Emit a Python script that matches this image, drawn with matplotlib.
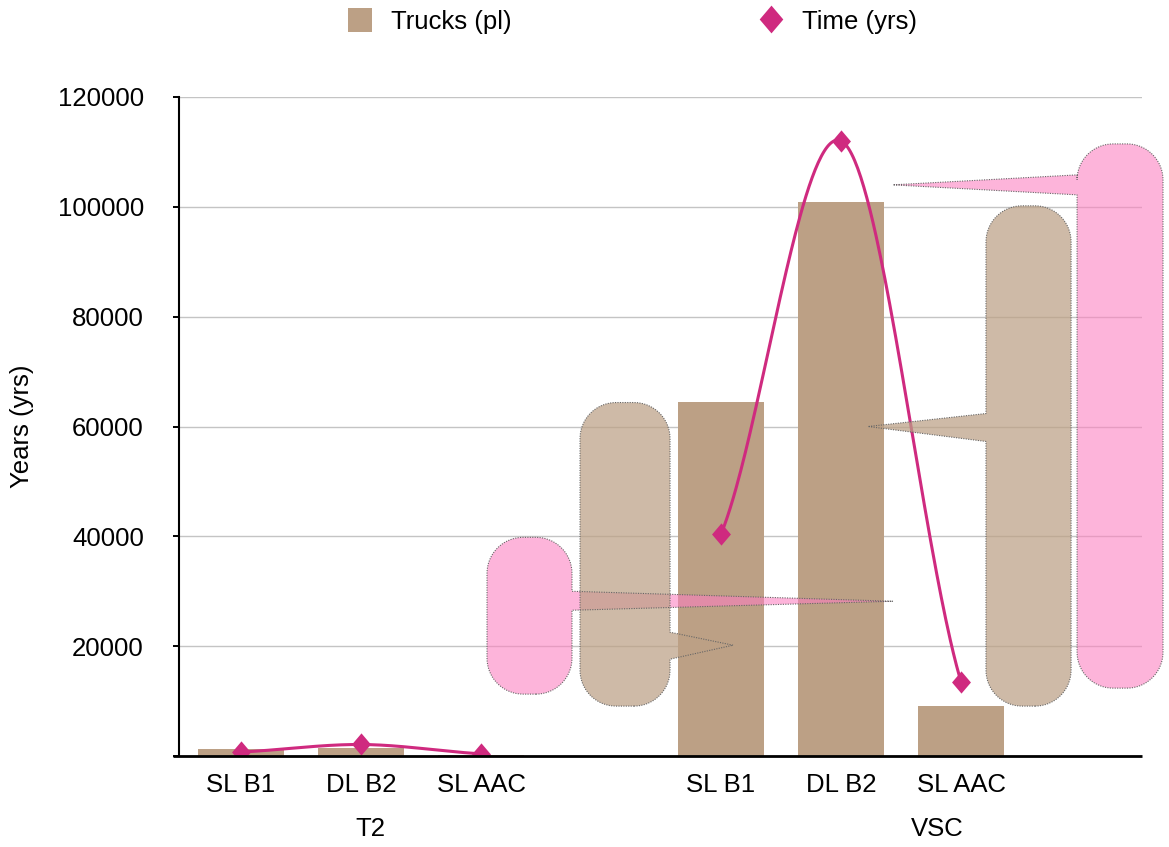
import numpy as np
import matplotlib
matplotlib.use("Agg")
import matplotlib.pyplot as plt
from matplotlib.patches import Patch, PathPatch
from matplotlib.lines import Line2D
from matplotlib.path import Path
from matplotlib.transforms import blended_transform_factory

plt.rcParams['font.family'] = ['Liberation Sans', 'DejaVu Sans']

# ---- data -------------------------------------------------------------
groups = ["T2", "VSC"]
categories = ["SL B1", "DL B2", "SL AAC"]
trucks_t2 = [1300, 1500, 150]
trucks_vsc = [64400, 100800, 9100]
time_t2 = [730, 2100, 400]
time_vsc = [40400, 112000, 13500]
y_ticks = [0, 20000, 40000, 60000, 80000, 100000, 120000]
y_tick_labels = ["", "20000", "40000", "60000", "80000", "100000", "120000"]

# ---- styling ----------------------------------------------------------
TAN = "#bca085"
MAGENTA = "#cf2a7f"
PINK = "#fd7fc0"
FS = 18.5

fig = plt.figure(figsize=(11.69, 8.47), dpi=100)
ax = fig.add_axes([0.1531, 0.1074, 0.8238, 0.7781])
ax.set_xlim(-0.517, 7.508)
ax.set_ylim(0, 120000)

# slot positions: three categories per group, with an empty slot between groups
pos_t2 = np.array([0, 1, 2])
pos_vsc = np.array([4, 5, 6])

ax.set_yticks(y_ticks)
ax.set_yticklabels(y_tick_labels, fontsize=FS)
ax.yaxis.grid(True, color="#c4c4c4", linewidth=1.0, zorder=0)
ax.set_axisbelow(True)
ax.tick_params(axis="y", length=4.3, width=1.4, pad=21, color="black")
ax.tick_params(axis="x", length=0, pad=12)
ax.set_xticks(np.concatenate([pos_t2, pos_vsc]))
ax.set_xticklabels(categories + categories, fontsize=FS)
ax.set_ylabel("Years (yrs)", fontsize=FS)
ax.yaxis.set_label_coords(-0.151, 0.5)

for s in ("top", "right"):
    ax.spines[s].set_visible(False)
ax.spines["left"].set_linewidth(1.5)
ax.spines["bottom"].set_visible(False)
# baseline that runs slightly past the y axis on the left
ax.plot([-0.0065, 1.0], [0, 0], transform=ax.transAxes, color="black",
        linewidth=2.0, clip_on=False, zorder=6, solid_capstyle="butt")

# ---- bars -------------------------------------------------------------
bar_w = 0.72
ax.bar(pos_t2, trucks_t2, width=bar_w, color=TAN, zorder=2)
ax.bar(pos_vsc, trucks_vsc, width=bar_w, color=TAN, zorder=2)


# ---- smoothed line ----------------------------------------------------
def smooth(xs, ys, tension=0.75, n=80):
    xs = np.asarray(xs, float)
    ys = np.asarray(ys, float)
    m = np.empty_like(ys)
    m[1:-1] = (ys[2:] - ys[:-2]) / (xs[2:] - xs[:-2])
    m[0] = (ys[1] - ys[0]) / (xs[1] - xs[0])
    m[-1] = (ys[-1] - ys[-2]) / (xs[-1] - xs[-2])
    m *= tension
    px, py = [], []
    for i in range(len(xs) - 1):
        h = xs[i + 1] - xs[i]
        t = np.linspace(0, 1, n)
        h00 = 2 * t**3 - 3 * t**2 + 1
        h10 = t**3 - 2 * t**2 + t
        h01 = -2 * t**3 + 3 * t**2
        h11 = t**3 - t**2
        px.append(xs[i] + t * h)
        py.append(h00 * ys[i] + h10 * h * m[i] + h01 * ys[i + 1] + h11 * h * m[i + 1])
    return np.concatenate(px), np.concatenate(py)


diamond = Path([(0, 1), (0.85, 0), (0, -1), (-0.85, 0), (0, 1)],
               [Path.MOVETO, Path.LINETO, Path.LINETO, Path.LINETO, Path.CLOSEPOLY])

for pos, vals in ((pos_t2, time_t2), (pos_vsc, time_vsc)):
    sx, sy = smooth(pos, vals)
    ax.plot(sx, sy, color=MAGENTA, linewidth=2.2, zorder=3, solid_capstyle="round")
    ax.plot(pos, vals, linestyle="none", marker=diamond, markersize=16,
            color=MAGENTA, markeredgewidth=0, zorder=4)

# ---- group labels -----------------------------------------------------
blend = blended_transform_factory(ax.transData, ax.transAxes)
for label, gx in zip(groups, (1.075, 5.8)):
    ax.text(gx, -0.11, label, transform=blend, ha="center", va="center", fontsize=FS)


# ---- speech-bubble callouts -------------------------------------------
def bubble(x0, x1, y0, y1, side, base_lo, base_hi, tip, color, alpha, r_px=36):
    T = ax.transData
    X0, Y0 = T.transform((x0, y0))
    X1, Y1 = T.transform((x1, y1))
    _, BL = T.transform((x0, base_lo))
    _, BH = T.transform((x0, base_hi))
    TX, TY = T.transform(tip)
    r = r_px

    def arc(cx, cy, a0, a1, n=18):
        a = np.radians(np.linspace(a0, a1, n))
        return list(zip(cx + r * np.cos(a), cy + r * np.sin(a)))

    pts = []
    pts += arc(X1 - r, Y0 + r, -90, 0)
    if side == "right":
        pts += [(X1, BL), (TX, TY), (X1, BH)]
    pts += arc(X1 - r, Y1 - r, 0, 90)
    pts += arc(X0 + r, Y1 - r, 90, 180)
    if side == "left":
        pts += [(X0, BH), (TX, TY), (X0, BL)]
    pts += arc(X0 + r, Y0 + r, 180, 270)
    pts.append(pts[0])
    data_pts = T.inverted().transform(np.array(pts))
    codes = [Path.MOVETO] + [Path.LINETO] * (len(data_pts) - 2) + [Path.CLOSEPOLY]
    patch = PathPatch(Path(data_pts, codes), facecolor=color, alpha=alpha,
                      edgecolor="none", zorder=5, clip_on=False)
    ax.add_patch(patch)
    edge = PathPatch(Path(data_pts, codes), facecolor="none", edgecolor="#666666",
                     linewidth=0.8, linestyle=(0, (1, 1.2)), zorder=5.1, clip_on=False)
    ax.add_patch(edge)


bubble(2.05, 2.758, 11273, 39818, "right", 26545, 30000, (5.433, 28182), PINK, 0.58)
bubble(2.825, 3.575, 9091, 64364, "right", 17636, 22545, (4.10, 20182), TAN, 0.72)
bubble(6.208, 6.917, 9091, 100182, "left", 57273, 62364, (5.225, 60000), TAN, 0.72)
bubble(6.967, 7.683, 12364, 111455, "left", 102182, 105818, (5.433, 104000), PINK, 0.58)

# ---- legend -----------------------------------------------------------
handles = [
    Patch(facecolor=TAN, edgecolor="none"),
    Line2D([], [], linestyle="none", marker=diamond, markersize=20,
           color=MAGENTA, markeredgewidth=0),
]
fig.legend(handles, ["Trucks (pl)", "Time (yrs)"], loc="center",
           bbox_to_anchor=(0.541, 0.975), ncol=2, frameon=False, fontsize=FS,
           handlelength=0.93, handleheight=1.05, handletextpad=0.74,
           columnspacing=9.65, borderpad=0)

fig.savefig("out.png", dpi=100)
